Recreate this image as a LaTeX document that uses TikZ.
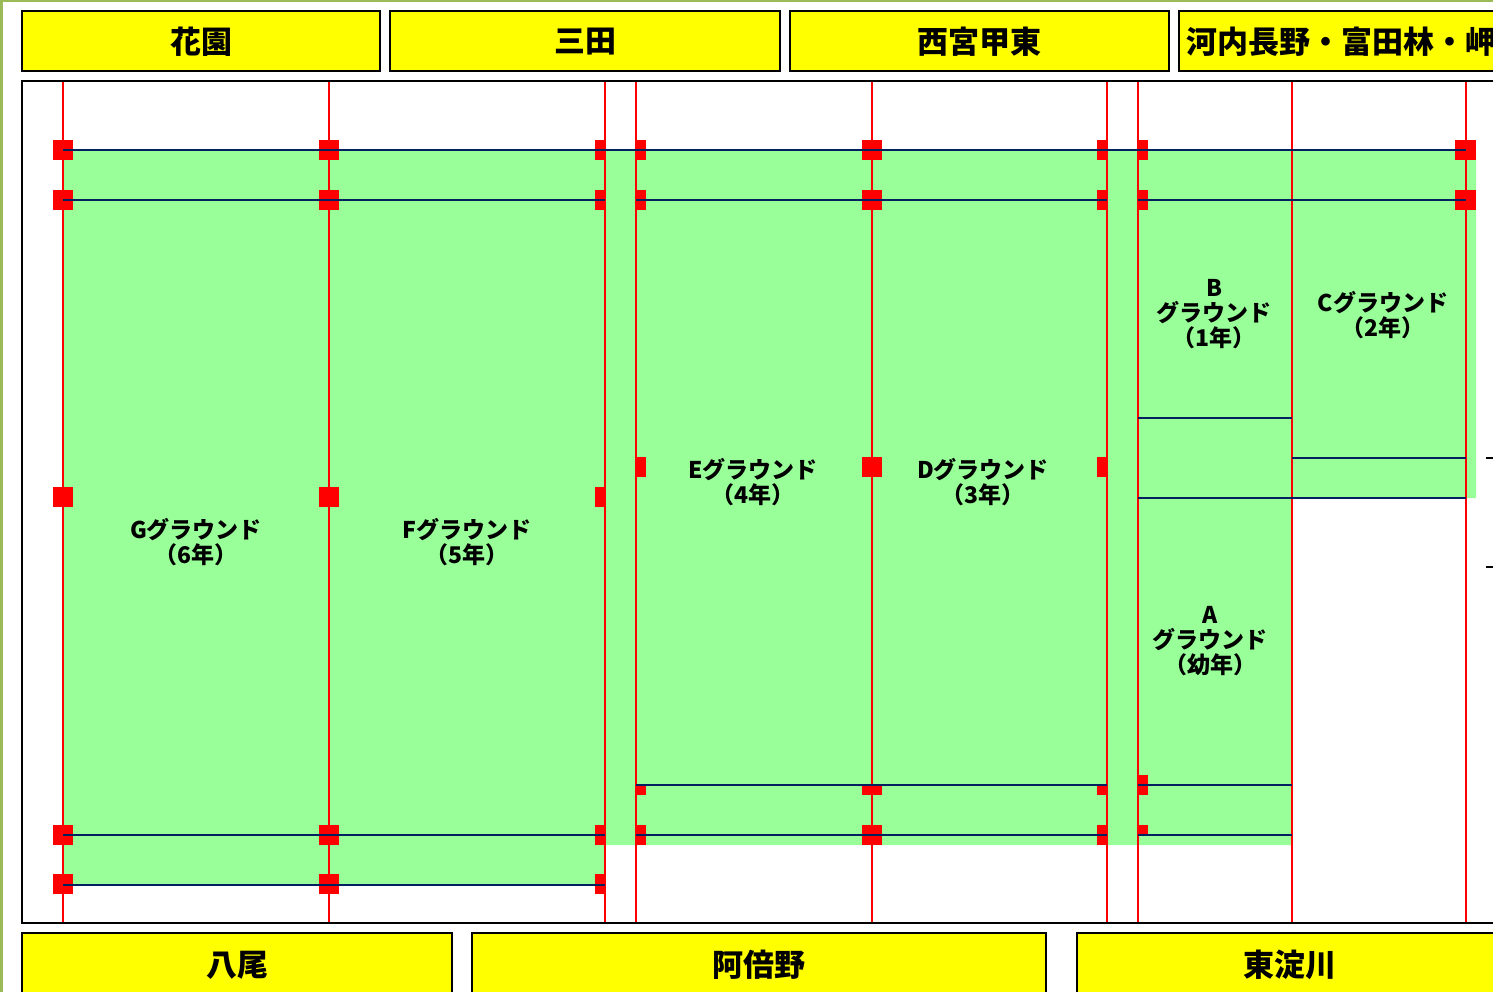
\documentclass[tikz,border=0pt]{standalone}
\usepackage{fontspec}
\newfontfamily\jp{Noto Sans CJK JP}[BoldFont={Noto Sans CJK JP Black}]
\definecolor{fieldgreen}{HTML}{99FF99}
\definecolor{navy}{HTML}{002060}
\definecolor{hdryellow}{HTML}{FFFF00}
\definecolor{olivebar}{HTML}{9BBB59}
\tikzset{
  hdrbox/.style={draw=black, line width=2.5pt, fill=hdryellow},
  hdrtext/.style={font=\jp\bfseries\fontsize{31}{31}\selectfont, inner sep=0pt},
  groundtext/.style={font=\jp\bfseries\fontsize{23}{25}\selectfont, align=center, inner sep=0pt},
  redline/.style={draw=red, line width=2pt},
  blueline/.style={draw=navy, line width=2pt},
  marker/.style={fill=red},
}
\begin{document}
\begin{tikzpicture}[x=1pt,y=-1pt]
\useasboundingbox (0,0) rectangle (1493,992);
\clip (0,0) rectangle (1493,992);
\fill[white] (0,0) rectangle (1493,992);
% olive page edge
\draw[olivebar, line width=3pt] (1,992) -- (1,1) -- (1493,1);
% green field
\fill[fieldgreen] (63,150) -- (1476,150) -- (1476,498) -- (1292,498) -- (1292,845) -- (605,845) -- (605,885) -- (63,885) -- cycle;
% main frame
\draw[line width=2.5pt] (22,81) rectangle (1520,923);
% red verticals
\foreach \x in {63,329,605,636,872,1107,1138,1292,1466}
  \draw[redline] (\x,82) -- (\x,922);
% markers: full
\foreach \x/\y in {63/150,63/200,63/497,63/835,63/884,329/150,329/200,329/497,329/835,329/884,872/150,872/200,872/467,872/835}
  \fill[marker] (\x-10,\y-10) rectangle (\x+10,\y+10);
\fill[marker] (862,785) rectangle (882,795);
\fill[marker] (1455,140) rectangle (1476,160);
\fill[marker] (1455,190) rectangle (1476,210);
% markers: left half
\foreach \x/\y in {605/150,605/200,605/497,605/835,605/884,1107/150,1107/200,1107/467,1107/835}
  \fill[marker] (\x-10,\y-10) rectangle (\x,\y+10);
\fill[marker] (1097,785) rectangle (1107,795);
% markers: right half
\foreach \x/\y in {636/150,636/200,636/467,636/835,1138/150,1138/200,1138/785}
  \fill[marker] (\x,\y-10) rectangle (\x+10,\y+10);
\fill[marker] (636,785) rectangle (646,795);
\fill[marker] (1138,825) rectangle (1148,835);
% navy lines
\draw[blueline] (63,150) -- (1466,150);
\draw[blueline] (63,200) -- (605,200);
\draw[blueline] (636,200) -- (1107,200);
\draw[blueline] (1138,200) -- (1466,200);
\draw[blueline] (1138,418) -- (1292,418);
\draw[blueline] (1292,458) -- (1466,458);
\draw[blueline] (1138,498) -- (1466,498);
\draw[blueline] (636,785) -- (1107,785);
\draw[blueline] (1138,785) -- (1292,785);
\draw[blueline] (63,835) -- (605,835);
\draw[blueline] (636,835) -- (1107,835);
\draw[blueline] (1138,835) -- (1292,835);
\draw[blueline] (63,885) -- (605,885);
% small ticks at right
\draw[line width=2pt] (1486,458) -- (1493,458);
\draw[line width=2pt] (1486,567) -- (1493,567);
% top headers
\draw[hdrbox] (22,11) rectangle (380,71);
\draw[hdrbox] (390,11) rectangle (780,71);
\draw[hdrbox] (790,11) rectangle (1169,71);
\draw[hdrbox] (1179,11) rectangle (1530,71);
\node[hdrtext] (hanazono) at (201,42) {花園};
\node[hdrtext] (sanda) at (585,42) {三田};
\node[hdrtext] (nishinomiya) at (979,42) {西宮甲東};
\node[hdrtext, anchor=west] (kawachi) at (1186,42) {河内長野・富田林・岬};
% bottom headers
\draw[hdrbox] (22,933) rectangle (452,1010);
\draw[hdrbox] (472,933) rectangle (1046,1010);
\draw[hdrbox] (1077,933) rectangle (1530,1010);
\node[hdrtext] (yao) at (237,965) {八尾};
\node[hdrtext] (abeno) at (759,965) {阿倍野};
\node[hdrtext] (higashiyodogawa) at (1290,965) {東淀川};
% ground labels
\node[groundtext] (gG) at (196,542) {Gグラウンド\\（6年）};
\node[groundtext] (gF) at (467,542) {Fグラウンド\\（5年）};
\node[groundtext] (gE) at (753,482) {Eグラウンド\\（4年）};
\node[groundtext] (gD) at (983,482) {Dグラウンド\\（3年）};
\node[groundtext] (gB) at (1214,314) {B\\グラウンド\\（1年）};
\node[groundtext] (gC) at (1383,315) {Cグラウンド\\（2年）};
\node[groundtext] (gA) at (1210,641) {A\\グラウンド\\（幼年）};
\end{tikzpicture}
\end{document}
